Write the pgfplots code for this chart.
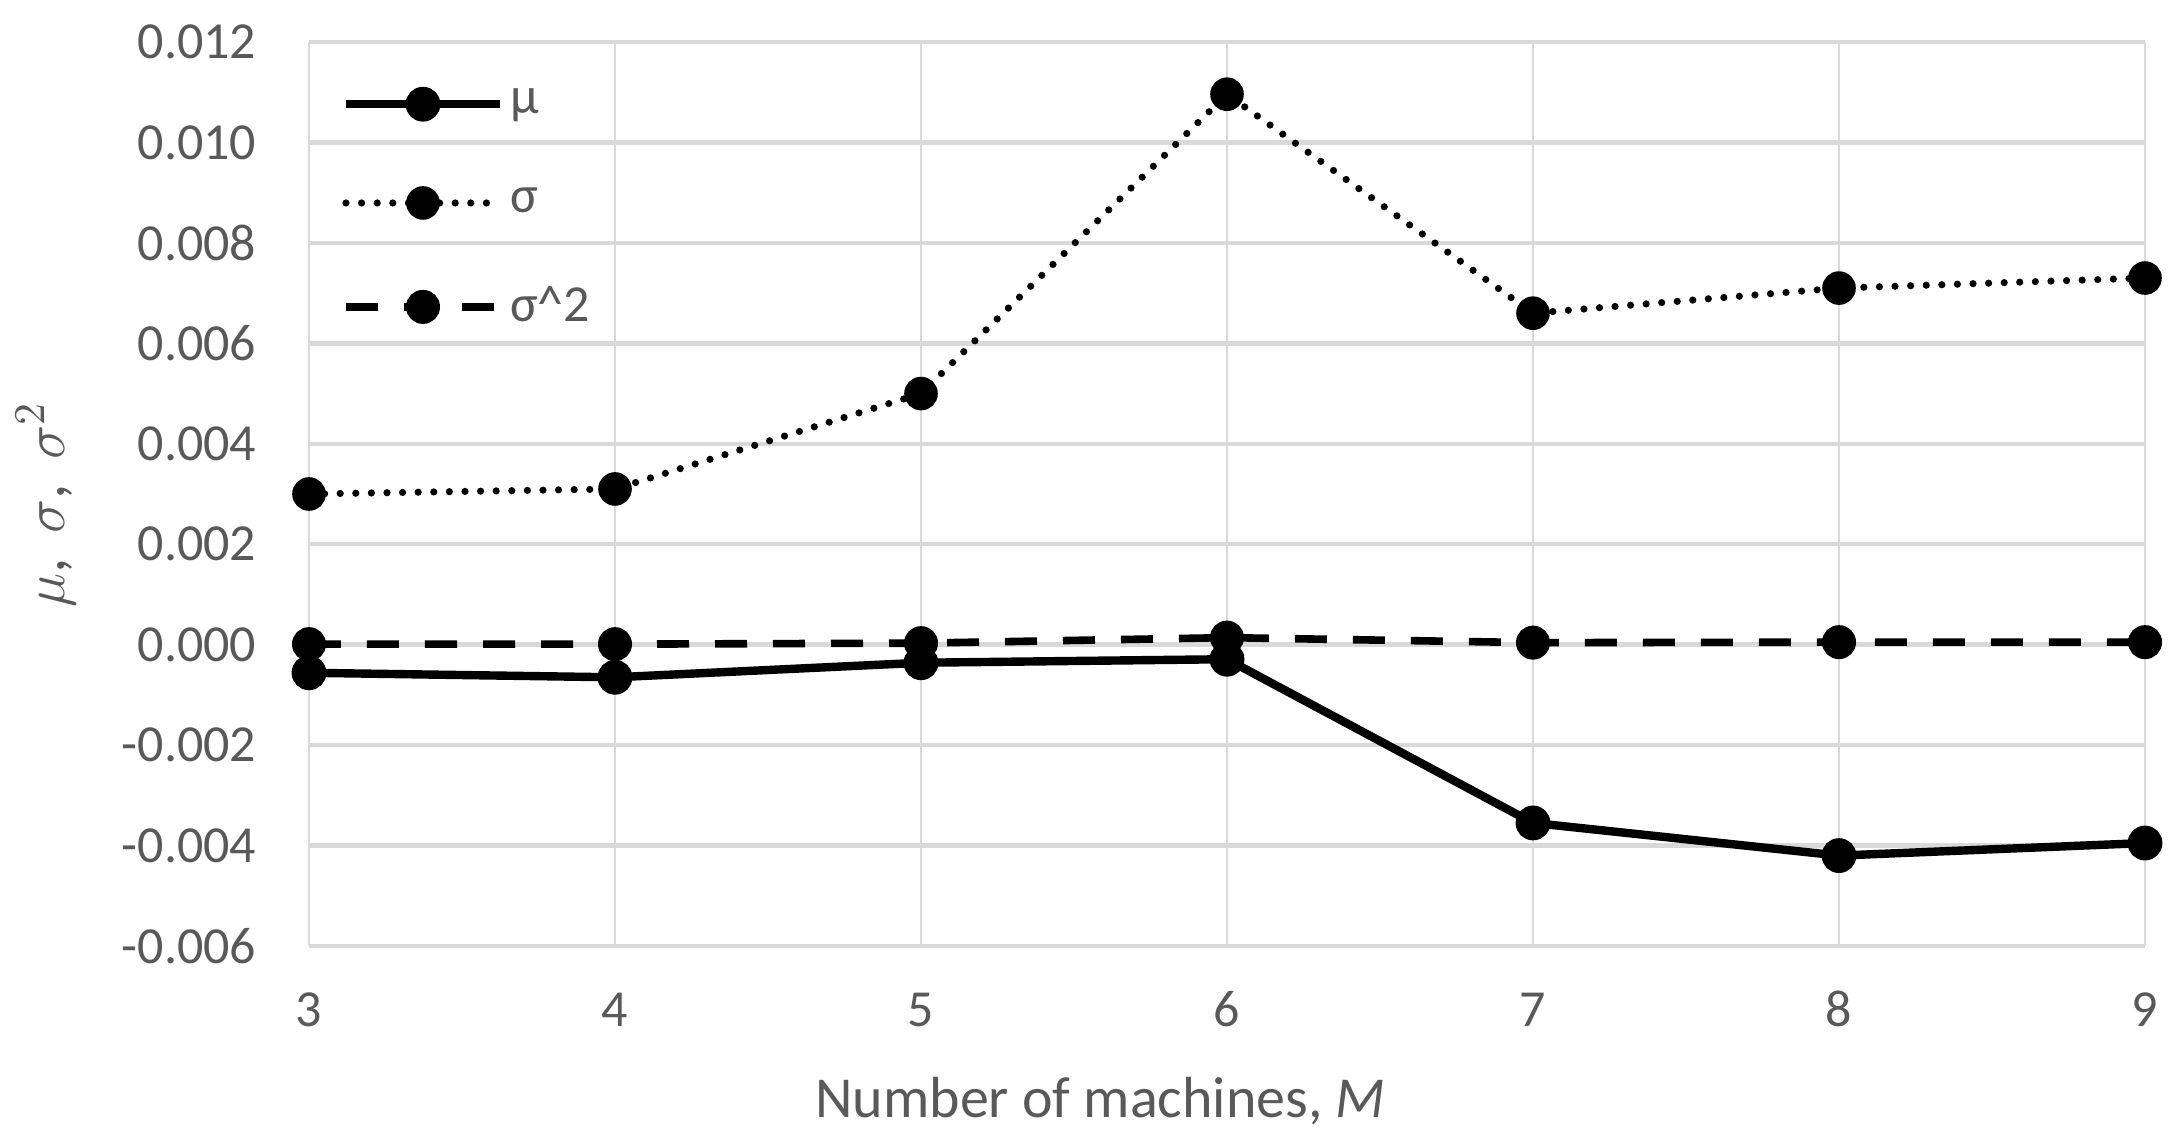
\documentclass[border=0pt]{standalone}
\usepackage{pgfplots}
\pgfplotsset{compat=1.18}
\usepackage{fontspec}
\setmainfont{Carlito}
\definecolor{txtgray}{HTML}{595959}
\definecolor{gridgray}{HTML}{D9D9D9}
\begin{document}
\begin{tikzpicture}
\begin{axis}[
  scale only axis, width=459pt, height=226pt,
  at={(0,0)}, anchor=south west,
  xmin=3, xmax=9, ymin=-0.006, ymax=0.012,
  xtick={3,4,5,6,7,8,9},
  ytick={-0.006,-0.004,-0.002,0,0.002,0.004,0.006,0.008,0.010,0.012},
  scaled y ticks=false,
  clip=false,
  axis line style={draw=none},
  major tick length=0pt,
  grid=major,
  x grid style={gridgray, line width=0.6pt},
  y grid style={gridgray, line width=1.1pt},
  ticklabel style={font=\fontsize{13}{15}\selectfont, text=txtgray},
  yticklabel style={anchor=east, inner sep=0pt, xshift=-13pt,
    /pgf/number format/.cd, fixed, fixed zerofill, precision=3, assume math mode=true},
  xticklabel style={anchor=base, inner sep=0pt, yshift=-20.25pt,
    /pgf/number format/assume math mode=true},
  xlabel={Number of machines, \textit{M}},
  every axis x label/.style={at={(rel axis cs:0.431,0)}, anchor=base, yshift=-43pt,
    font=\fontsize{14.5}{17}\selectfont, text=txtgray},
  ylabel={$\mu$,\, $\sigma$,\, $\sigma^2$},
  every axis y label/.style={at={(rel axis cs:0,0.488)}, xshift=-65.75pt, rotate=90, anchor=center,
    font=\fontsize{15.5}{18}\selectfont, text=txtgray},
  legend image code/.code={\draw[mark repeat=2,mark phase=2,#1] plot coordinates {(0pt,0pt) (19.25pt,0pt) (38.5pt,0pt)};},
  legend cell align=left,
  legend style={at={(rel axis cs:0,1)}, anchor=north west, xshift=8pt, yshift=-10pt,
    draw=none, fill=none, inner sep=0pt, row sep=14pt,
    font=\fontsize{13}{15}\selectfont, text=txtgray, nodes={inner sep=1.5pt}},
]
\addplot[black, line width=2.1pt, mark=*, mark size=3.3pt, mark options={solid, fill=black}]
  coordinates {(3,-0.00056)(4,-0.00065)(5,-0.00036)(6,-0.00029)(7,-0.00355)(8,-0.0042)(9,-0.00395)};
\addlegendentry{μ}
\addplot[black, line width=1.8pt, line cap=round, dash pattern=on 0pt off 3.9pt, mark=*, mark size=3.3pt, mark options={solid, fill=black}]
  coordinates {(3,0.0030)(4,0.0031)(5,0.0050)(6,0.01096)(7,0.0066)(8,0.0071)(9,0.0073)};
\addlegendentry{σ}
\addplot[black, line width=1.9pt, dash pattern=on 8pt off 6.5pt, mark=*, mark size=3.3pt, mark options={solid, fill=black}]
  coordinates {(3,0.00001)(4,0.00001)(5,0.00003)(6,0.00014)(7,0.00004)(8,0.00005)(9,0.00005)};
\addlegendentry{σ\^{}2}
\path[use as bounding box] (-77.25pt,-49.5pt) rectangle (468.75pt,236.5pt);
\end{axis}
\end{tikzpicture}
\end{document}
